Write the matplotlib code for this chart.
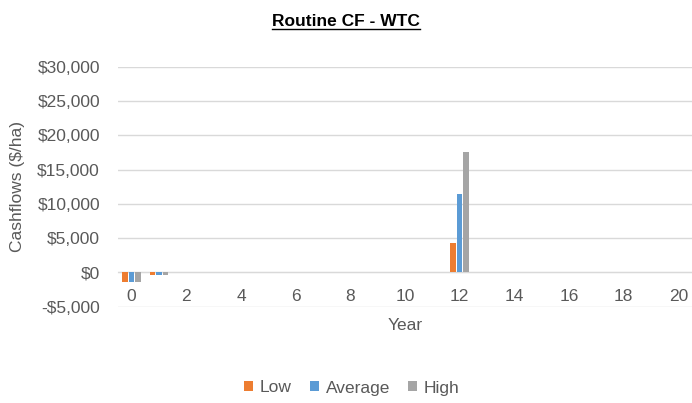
import matplotlib
matplotlib.use("Agg")
import matplotlib.pyplot as plt
from matplotlib.lines import Line2D
import numpy as np

years = list(range(0, 21))
low = [-1400, -400, 0, 0, 0, 0, 0, 0, 0, 0, 0, 0, 4300, 0, 0, 0, 0, 0, 0, 0, 0]
average = [-1400, -400, 0, 0, 0, 0, 0, 0, 0, 0, 0, 0, 11500, 0, 0, 0, 0, 0, 0, 0, 0]
high = [-1400, -400, 0, 0, 0, 0, 0, 0, 0, 0, 0, 0, 17600, 0, 0, 0, 0, 0, 0, 0, 0]
series_names = ["Low", "Average", "High"]
yticks = [-5000, 0, 5000, 10000, 15000, 20000, 25000, 30000]
xticks = list(range(0, 21, 2))

colors = ["#ED7D31", "#5B9BD5", "#A5A5A5"]
txt = "#595959"
plt.rcParams['font.family'] = ['Liberation Sans', 'DejaVu Sans']

W, H = 692, 403
fig = plt.figure(figsize=(W / 100, H / 100), dpi=100)
ax = fig.add_axes([118 / W, 1 - 306.7 / H, (692 - 118) / W, (306.7 - 66.7) / H])

x = np.arange(len(years))
step = 0.24
bw = 0.2
for i, (vals, c) in enumerate(zip([low, average, high], colors)):
    ax.bar(x + (i - 1) * step, vals, width=bw, color=c, linewidth=0,
           label=series_names[i], zorder=3)

ax.set_xlim(-0.5, 20.5)
ax.set_ylim(-5000, 30000)
ax.set_yticks(yticks)
ax.set_yticklabels([("-$" if v < 0 else "$") + f"{abs(v):,}" for v in yticks])
ax.set_xticks(xticks)
ax.set_xticklabels([str(v) for v in xticks])
ax.grid(axis="y", color="#D9D9D9", linewidth=1.0, zorder=0)
for s in ["top", "right", "left"]:
    ax.spines[s].set_visible(False)
ax.spines["bottom"].set_position(("data", 0))
ax.spines["bottom"].set_color("#D9D9D9")
ax.tick_params(axis="both", length=0, labelsize=12.5, colors=txt)
ax.tick_params(axis="y", pad=13)
ax.tick_params(axis="x", pad=12)

fig.text(18 / W, 1 - 186.7 / H, "Cashflows ($/ha)", rotation=90, ha="center",
         va="center", fontsize=12.5, color=txt)
fig.text(405 / W, 1 - 325 / H, "Year", ha="center", va="center", fontsize=12.5, color=txt)

title = fig.text(346 / W, 1 - 22 / H, "Routine CF - WTC", ha="center", va="center",
                 fontsize=12.5, fontweight="bold", color="black")
fig.canvas.draw()
bb = title.get_window_extent(renderer=fig.canvas.get_renderer())
uy = (bb.y0 + 1) / H
fig.add_artist(Line2D([bb.x0 / W, bb.x1 / W], [uy, uy], color="black", linewidth=1.0,
                      transform=fig.transFigure))

leg = fig.legend(loc="center", bbox_to_anchor=(352 / W, 1 - 388 / H), ncol=3,
                 frameon=False, fontsize=12.5, handlelength=0.5, handleheight=0.5,
                 handletextpad=0.4, columnspacing=1.05, labelcolor=txt)

fig.savefig("out.png", dpi=100)
